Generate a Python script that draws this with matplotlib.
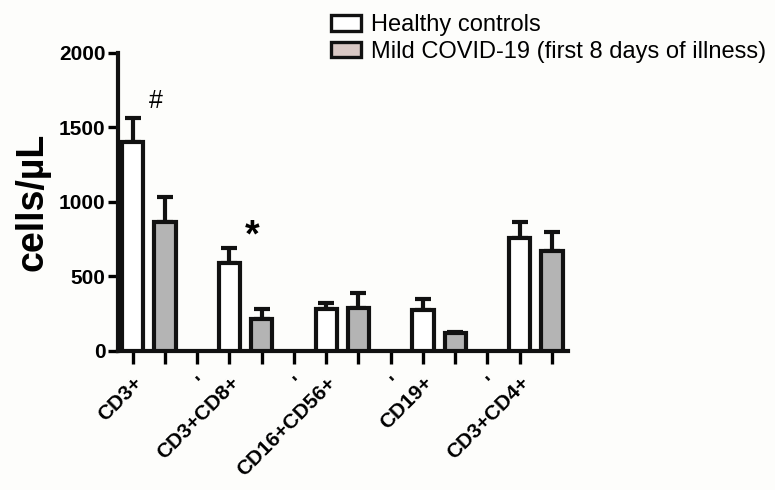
import numpy as np
import matplotlib
matplotlib.use("Agg")
import matplotlib.pyplot as plt
from matplotlib.patches import Patch

plt.rcParams['font.family'] = ['Liberation Sans', 'DejaVu Sans']

# data
groups = ["CD3+", "CD3+CD8+", "CD16+CD56+", "CD19+", "CD3+CD4+"]
healthy = [1400, 592, 278, 275, 758]
healthy_err = [165, 97, 45, 72, 107]
covid = [865, 215, 285, 120, 673]
covid_err = [170, 65, 105, 8, 128]
series_names = ["Healthy controls", "Mild COVID-19 (first 8 days of illness)"]
marks = {0: "#", 1: "*"}  # group index -> significance mark over covid bar

bg = "#fdfdfb"
fig = plt.figure(figsize=(7.75, 4.9), dpi=100, facecolor=bg)
ax = fig.add_axes([0.152, 0.284, 0.581, 0.608])
ax.set_facecolor(bg)

# every group takes 3 slots: healthy, covid, empty gap
pos_h = np.arange(len(groups)) * 3
pos_c = pos_h + 1
lw = 3.0
ax.bar(pos_h, healthy, width=0.66, color="white", edgecolor="#111111", linewidth=lw, zorder=3)
ax.bar(pos_c, covid, width=0.66, color="#b4b4b4", edgecolor="#111111", linewidth=lw, zorder=3)
ax.errorbar(pos_h, healthy, yerr=[np.zeros(len(groups)), healthy_err], fmt="none",
            ecolor="#111111", elinewidth=lw, capsize=5.5, capthick=lw, zorder=2)
ax.errorbar(pos_c, covid, yerr=[np.zeros(len(groups)), covid_err], fmt="none",
            ecolor="#111111", elinewidth=lw, capsize=5.5, capthick=lw, zorder=2)

for i, m in marks.items():
    top = healthy[i] + healthy_err[i]
    if m == "#":
        ax.text(pos_c[i] - 0.28, top + 30, m, fontsize=18, ha="center", va="bottom")
    else:
        ax.text(pos_c[i] - 0.3, top - 45, m, fontsize=27, fontweight="bold", ha="center", va="bottom")

# ticks at every slot, labels under healthy bars and gaps
ticks = np.arange(len(groups) * 3 - 1)
labels = []
for t in ticks:
    if t % 3 == 0:
        labels.append(groups[t // 3])
    elif t % 3 == 2:
        labels.append("'")
    else:
        labels.append("")
ax.set_xticks(ticks)
ax.set_xticklabels(labels, rotation=45, ha="right", rotation_mode="anchor",
                   fontsize=15, fontweight="bold")
ax.set_xlim(-0.46, ticks[-1] + 0.5)

ax.set_ylim(0, 2000)
ax.set_yticks([0, 500, 1000, 1500, 2000])
ax.tick_params(axis="y", labelsize=15, width=2.4, length=7, pad=2)
ax.tick_params(axis="x", width=2.4, length=9, pad=7)
for lab in ax.get_yticklabels():
    lab.set_fontweight("bold")
ax.set_ylabel("cells/\u00b5L", fontsize=27, fontweight="bold", labelpad=6)

for s in ["top", "right"]:
    ax.spines[s].set_visible(False)
for s in ["left", "bottom"]:
    ax.spines[s].set_linewidth(3.0)
    ax.spines[s].set_color("#111111")

handles = [Patch(facecolor="white", edgecolor="#111111", linewidth=2.4),
           Patch(facecolor="#d9c8c4", edgecolor="#111111", linewidth=2.4)]
fig.legend(handles, series_names, loc="upper right", bbox_to_anchor=(1.004, 0.995),
           frameon=False, fontsize=17, handlelength=1.25, handleheight=0.62,
           handletextpad=0.45, labelspacing=0.2, borderaxespad=0.1)

fig.savefig("out.png", dpi=100, facecolor=bg)
